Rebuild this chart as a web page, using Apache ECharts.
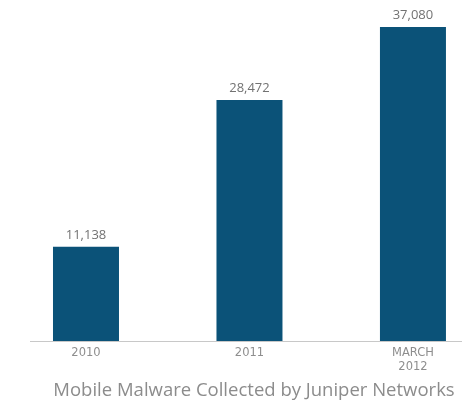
<!DOCTYPE html>
<html>
<head>
<meta charset="utf-8">
<style>
  html, body { margin: 0; padding: 0; background: #ffffff; }
  #chart { width: 462px; height: 404px; }
</style>
<script src="https://cdn.jsdelivr.net/npm/echarts@6/dist/echarts.min.js"></script>
</head>
<body>
<div id="chart"></div>
<script>
// Mobile malware samples collected per period
const categories = ['2010', '2011', 'MARCH\n2012'];
const malwareCounts = [11138, 28472, 37080];

const chart = echarts.init(document.getElementById('chart'));

// Bars sit on a numeric x scale (one unit per period) so the last bar can run
// close to the right edge of the canvas.
const barData = malwareCounts.map((v, i) => [i, v]);

chart.setOption({
  animation: false,
  backgroundColor: '#ffffff',
  title: {
    text: 'Mobile Malware Collected by Juniper Networks',
    left: 249,
    textAlign: 'center',
    top: 376,
    textStyle: {
      fontFamily: 'Open Sans',
      fontWeight: 'normal',
      fontSize: 18.5,
      color: '#8c8c8c'
    }
  },
  grid: { left: 4.25, right: 0, top: 2.3, bottom: 63, containLabel: false },
  xAxis: {
    type: 'value',
    min: -0.5,
    max: 2.3,
    axisLine: { show: false },
    axisTick: { show: false },
    splitLine: { show: false },
    axisLabel: {
      customValues: [0, 1, 2],
      formatter: v => categories[Math.round(v)],
      margin: 5,
      fontFamily: 'DejaVu Sans',
      fontSize: 11.5,
      lineHeight: 14,
      color: '#8e8e8e'
    }
  },
  yAxis: {
    type: 'value',
    min: 0,
    max: 40000,
    show: false,
    splitLine: { show: false }
  },
  graphic: [{
    type: 'line',
    shape: { x1: 30, y1: 341.5, x2: 462, y2: 341.5 },
    style: { stroke: '#c8c8c8', lineWidth: 1 },
    z: 10
  }],
  series: [{
    type: 'bar',
    data: barData,
    barWidth: 66,
    itemStyle: { color: '#0b5278' },
    label: {
      show: true,
      position: 'top',
      distance: 5,
      fontFamily: 'Open Sans',
      fontSize: 13,
      color: '#727272',
      formatter: p => p.value[1].toLocaleString('en-US')
    }
  }]
});
</script>
</body>
</html>
